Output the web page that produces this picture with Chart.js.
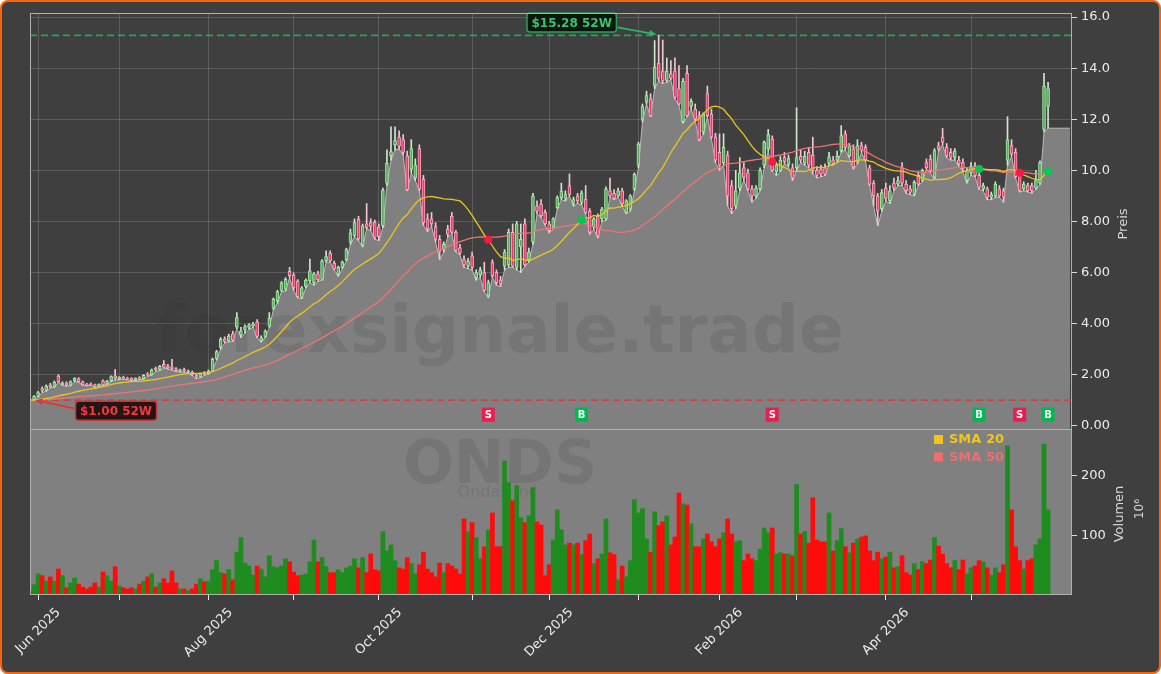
<!DOCTYPE html>
<html>
<head>
<meta charset="utf-8">
<title>ONDS</title>
<script src="https://cdn.jsdelivr.net/npm/chart.js@4.4.1/dist/chart.umd.min.js"></script>
<style>
  html, body { margin: 0; padding: 0; background: #ffffff; }
  #frame { position: absolute; left: 0; top: 0; width: 1161px; height: 674px; box-sizing: border-box;
           border: 2px solid #f3660e; border-radius: 8px; background: #3f3f3f; }
  #priceChart { position: absolute; left: 0; top: 0; }
  #volumeChart { position: absolute; left: 0; top: 429px; }
</style>
</head>
<body>
<div id="frame"></div>
<canvas id="priceChart" width="1161" height="440"></canvas>
<canvas id="volumeChart" width="1161" height="245"></canvas>
<script>
const FONT = '"DejaVu Sans", sans-serif';

// trading calendar (x axis is the trading-day index)
const startDate = '2025-05-29';
const holidays = ['2025-06-19', '2025-07-04', '2025-09-01', '2025-11-27', '2025-12-25',
                  '2026-01-01', '2026-01-19', '2026-02-16', '2026-04-03', '2026-05-25'];
const xTickLabels = ['Jun 2025', '', 'Aug 2025', '', 'Oct 2025', '', 'Dec 2025', '', 'Feb 2026', '', 'Apr 2026', ''];
const priceTicks = [0, 2, 4, 6, 8, 10, 12, 14, 16];
const volumeTicks = [100, 200];

// closes before the first visible day (only feed the moving averages)
const priorCloses = [0.95,0.97,0.96,0.98,0.99,0.97,0.96,0.98,1.00,0.99, 0.97,0.98,1.01,1.00,0.98,0.97,0.99,1.02,1.01,0.99,
  0.98,1.00,1.02,1.01,0.99,0.97,0.98,1.00,1.01,0.99, 0.98,0.97,0.99,1.00,0.98,0.96,0.97,0.99,1.01,1.00,
  0.98,0.97,0.99,1.00,1.02,1.01,0.99,1.01,1.03];

const opens = [
  1.04,1.02,
  1.15,1.45,1.38,1.60,1.52,1.94,1.62,1.68,1.59,1.76,1.83,1.72,1.63,1.64,1.60,1.55,1.76,1.64,1.76,1.95,
  1.84,1.90,1.86,1.85,1.80,1.88,1.84,2.02,2.00,2.25,2.20,2.40,2.34,2.30,2.24,2.13,2.20,2.10,2.10,1.98,1.90,2.08,
  2.04,2.14,2.62,3.06,3.40,3.32,3.60,3.86,3.55,3.75,3.85,3.92,4.07,3.32,3.50,3.90,4.60,4.90,5.30,5.35,6.04,
  5.90,5.66,5.02,5.45,5.67,5.60,5.95,5.73,6.45,6.75,6.37,5.92,6.20,6.50,7.20,7.45,8.09,7.07,7.90,7.95,7.96,
  7.79,7.83,9.50,10.57,10.99,11.30,11.20,10.57,10.04,9.70,10.85,9.65,8.10,8.10,7.80,7.30,6.90,7.70,8.20,7.57,6.96,6.50,6.25,
  6.65,5.80,5.90,6.00,5.08,6.39,6.00,5.70,6.25,6.30,7.57,6.20,7.00,7.90,6.50,7.20,8.60,8.68,8.35,
  7.90,7.77,8.54,8.93,8.90,9.40,8.70,9.00,8.74,8.87,8.40,7.77,8.20,8.10,8.10,9.20,9.10,9.00,9.20,8.35,8.48,9.27,
  10.20,12.00,12.67,12.80,13.32,14.20,13.90,13.52,13.78,13.90,13.20,11.90,13.80,12.50,12.40,12.14,11.50,13.00,12.20,11.30,
  10.70,10.30,10.60,9.40,8.60,9.30,10.10,9.90,9.27,9.00,9.27,10.20,10.84,11.22,9.95,10.00,10.50,10.23,10.10,
  10.10,10.55,10.30,10.70,10.60,10.00,10.05,10.10,10.27,10.40,10.40,10.77,11.43,10.57,10.84,10.32,10.97,10.90,10.10,9.50,9.00,8.50,
  9.30,8.80,9.50,9.46,10.10,9.46,9.27,9.07,9.80,9.60,10.30,10.44,9.73,10.97,11.30,10.90,10.70,10.50,10.40,10.30,9.60,
  9.90,10.18,9.80,9.27,9.27,8.95,9.00,9.27,9.20,10.40,10.97,10.70,9.80,9.27,9.40,9.40,9.30,9.50,11.60,12.50
];
const highs = [
  1.08,1.18,
  1.35,1.52,1.60,1.66,1.75,2.00,1.72,1.72,1.76,1.88,1.88,1.75,1.66,1.68,1.63,1.64,1.80,1.78,1.95,2.20,
  1.92,1.94,1.90,1.88,1.88,1.92,2.00,2.08,2.22,2.30,2.36,2.55,2.40,2.60,2.28,2.22,2.26,2.18,2.14,2.02,2.06,2.12,
  2.18,2.65,2.95,3.45,3.48,3.58,3.70,4.43,3.85,3.95,4.00,4.05,4.15,3.52,3.75,4.43,5.00,5.30,5.65,5.80,6.20,
  5.98,5.72,5.45,5.75,6.52,6.00,6.05,6.50,6.85,6.85,6.45,6.25,6.45,6.95,7.70,8.10,8.20,7.90,8.70,8.10,8.05,
  7.90,9.30,10.80,11.70,11.70,11.55,11.40,10.75,11.20,10.45,11.00,9.80,8.30,8.35,7.95,7.45,7.20,7.85,8.35,7.65,7.10,6.65,6.55,
  6.80,6.10,6.20,6.40,5.70,6.50,6.10,5.85,6.90,7.70,7.90,8.00,7.90,8.10,6.95,9.10,8.80,8.85,8.45,
  8.00,8.15,9.00,9.50,9.20,9.86,8.95,9.10,9.20,9.40,8.50,8.15,8.30,8.55,9.35,9.70,9.25,9.30,9.30,8.85,9.05,9.90,
  11.10,12.60,13.10,13.00,15.08,15.28,15.10,14.40,14.30,14.40,14.10,13.60,14.10,12.80,12.60,12.30,12.25,13.30,12.40,11.45,
  11.43,11.43,10.75,9.60,10.00,10.50,10.30,10.05,9.40,9.40,10.10,11.15,11.60,11.35,10.30,10.55,10.70,10.60,10.25,
  12.45,10.80,10.75,10.90,11.30,10.15,10.20,10.25,10.70,10.55,10.75,11.75,11.55,11.05,11.00,11.20,11.10,11.00,10.20,9.60,9.10,9.25,
  9.50,9.40,9.70,9.75,10.30,9.60,9.40,9.60,9.95,10.05,10.45,10.60,10.85,11.10,11.64,11.05,10.85,10.85,10.55,10.45,10.10,
  10.30,10.30,9.90,9.50,9.35,9.15,9.55,9.40,9.30,12.10,11.20,10.85,9.95,9.55,9.50,9.50,10.00,10.37,13.80,13.45
];
const lows = [
  1.01,1.00,
  1.12,1.30,1.35,1.48,1.50,1.70,1.58,1.55,1.56,1.72,1.70,1.58,1.56,1.58,1.50,1.53,1.58,1.62,1.72,1.80,
  1.80,1.82,1.80,1.76,1.78,1.80,1.82,1.94,1.98,2.12,2.16,2.26,2.22,2.18,2.12,2.10,2.10,2.06,1.96,1.84,1.88,1.98,
  2.02,2.12,2.58,3.00,3.24,3.28,3.30,3.80,3.45,3.62,3.78,3.85,3.45,3.28,3.45,3.85,4.55,4.80,5.25,5.28,5.80,
  5.30,5.00,4.98,5.40,5.60,5.50,5.65,5.70,6.40,6.40,6.10,5.85,6.15,6.45,7.10,7.40,7.25,7.00,7.70,7.65,7.30,
  7.25,7.75,9.40,10.40,10.80,10.84,10.60,9.20,9.90,9.60,9.20,7.85,7.60,7.80,7.20,6.50,6.80,7.40,7.50,6.80,6.70,6.20,6.15,
  6.10,5.70,5.80,5.25,5.02,5.80,5.50,5.45,6.10,6.20,6.20,6.10,6.00,6.25,6.40,7.10,8.30,8.15,7.85,
  7.55,7.70,8.50,8.85,8.80,9.00,8.60,8.70,8.65,8.30,7.50,7.70,7.35,8.00,8.05,8.95,8.85,8.95,8.60,8.30,8.40,9.20,
  10.10,11.90,12.60,12.10,13.20,13.50,13.40,13.45,13.55,12.80,12.55,11.85,12.10,12.40,11.95,11.15,11.40,12.10,11.25,10.30,
  10.00,10.20,8.60,8.30,8.50,9.20,9.60,9.20,8.75,8.90,9.20,10.10,10.75,9.95,9.80,9.95,10.25,10.15,9.60,
  10.00,10.30,10.20,10.10,9.85,9.70,9.75,9.80,10.20,10.20,10.30,10.70,10.80,10.50,10.05,10.25,10.70,10.35,9.40,8.60,7.83,8.40,
  8.80,8.70,9.20,9.40,9.40,9.10,9.05,9.00,9.40,9.55,10.05,9.90,9.65,10.75,11.00,10.50,10.40,10.40,10.15,9.95,9.50,
  9.80,9.75,9.25,9.20,8.85,8.85,8.95,8.95,8.75,10.20,10.55,9.70,9.15,9.20,9.15,9.10,9.25,9.45,11.50,11.65
];
const closes = [
  1.02,1.15,
  1.30,1.38,1.55,1.52,1.70,1.72,1.68,1.60,1.73,1.85,1.72,1.60,1.60,1.61,1.54,1.62,1.60,1.75,1.92,1.86,
  1.89,1.85,1.83,1.79,1.86,1.82,1.97,1.98,2.18,2.18,2.32,2.28,2.26,2.22,2.15,2.19,2.14,2.14,1.99,1.90,2.03,2.02,
  2.14,2.60,2.90,3.38,3.30,3.51,3.35,4.23,3.70,3.88,3.95,3.98,3.50,3.45,3.70,4.20,4.95,5.25,5.58,5.73,5.87,
  5.40,5.05,5.40,5.70,6.06,5.95,5.72,6.46,6.62,6.45,6.13,6.20,6.40,6.90,7.55,7.95,7.31,7.83,7.75,7.80,7.37,
  7.40,9.23,10.27,10.73,11.16,10.95,10.70,9.24,10.85,10.20,9.27,7.95,7.70,7.90,7.30,6.80,7.10,7.50,7.57,6.85,6.76,6.30,6.45,
  6.20,6.00,6.10,5.30,5.60,5.87,5.60,5.55,6.80,7.57,6.25,7.90,7.30,6.30,6.80,9.00,8.40,8.22,7.90,
  7.64,8.10,8.93,9.19,9.05,9.06,8.85,8.80,9.12,8.35,7.57,8.10,7.43,8.48,9.27,9.00,8.90,9.20,8.68,8.80,9.00,9.84,
  11.03,12.50,12.93,12.14,14.04,13.60,13.50,13.90,13.60,12.86,12.60,13.48,12.14,12.70,12.00,11.20,12.20,12.14,11.30,10.40,
  10.20,10.90,9.00,8.50,9.20,9.90,9.72,9.27,9.00,9.30,10.00,11.10,11.40,10.00,10.20,10.40,10.35,10.46,9.70,
  10.50,10.40,10.55,10.20,10.00,9.80,9.85,9.85,10.53,10.27,10.55,11.36,10.90,10.97,10.12,10.97,10.80,10.40,9.46,9.00,8.40,9.13,
  8.90,9.20,9.30,9.60,9.50,9.20,9.13,9.53,9.46,10.00,10.10,9.98,10.77,10.84,11.10,10.57,10.50,10.75,10.25,10.05,10.00,
  10.15,9.80,9.33,9.40,8.94,9.05,9.46,9.00,8.95,11.20,10.64,9.75,9.20,9.46,9.20,9.20,9.60,10.30,13.30,13.20
];
// volume in millions
const volumes = [
  9,19,
  37,34,25,32,25,45,34,14,22,30,20,15,12,15,22,15,40,34,25,49,
  17,14,12,14,12,20,25,32,37,15,22,29,22,42,22,12,12,9,12,20,29,24,
  25,44,59,39,37,44,27,73,97,55,50,35,50,45,32,67,49,47,50,62,57,
  40,34,35,37,57,93,57,64,49,39,39,44,39,47,50,62,47,64,39,70,44,
  42,107,75,85,59,47,45,64,54,37,52,73,45,39,32,55,39,54,50,45,37,128,107,
  122,97,62,82,110,138,82,82,224,188,158,183,130,122,133,180,123,118,34,
  52,93,143,110,85,88,85,88,69,92,103,54,62,70,128,72,69,27,50,32,59,160,
  138,145,95,73,140,117,123,133,85,98,171,153,151,120,82,82,95,103,90,82,
  95,105,128,103,90,92,59,70,62,59,78,113,105,113,70,72,70,70,67,
  185,103,107,88,163,93,90,90,138,75,92,112,82,72,88,95,98,100,75,59,73,62,
  65,73,47,49,67,39,35,54,44,57,54,60,97,83,70,54,47,59,44,60,37,
  47,50,59,57,47,35,47,39,52,249,143,82,59,45,59,62,85,95,252,143
];
// SMA crossover signals
const signalIdx = [113, 136, 183, 234, 244, 251];
const signalType = ['S', 'B', 'S', 'B', 'S', 'B'];

const X_MIN = 0, X_MAX = 256.9;   // visible index range
const AREA_END = 256.4;            // low-price band runs on to here
const SIGNAL_LEVEL = 0.43;         // price level of the S/B tags

function tradingDays(start, n) {
  const out = [];
  const d = new Date(start + 'T00:00:00Z');
  while (out.length < n) {
    const wd = d.getUTCDay();
    const iso = d.toISOString().slice(0, 10);
    if (wd !== 0 && wd !== 6 && !holidays.includes(iso)) out.push(iso);
    d.setUTCDate(d.getUTCDate() + 1);
  }
  return out;
}

function sma(period) {
  const all = priorCloses.concat(closes);
  const off = priorCloses.length;
  return closes.map((_, i) => {
    const end = off + i, start = Math.max(0, end - period + 1);
    let s = 0;
    for (let k = start; k <= end; k++) s += all[k];
    return s / (end - start + 1);
  });
}

const N = closes.length;
const dates = tradingDays(startDate, N);
const monthStarts = [];
for (let i = 1; i < N; i++) {
  if (dates[i].slice(0, 7) !== dates[i - 1].slice(0, 7)) monthStarts.push(i);
}
const up = closes.map((c, i) => c >= opens[i]);
const sma20 = sma(20);
const sma50 = sma(50);
const high52 = Math.max(...highs), highIdx = highs.indexOf(high52);
const low52 = Math.min(...lows), lowIdx = lows.indexOf(low52);

const areaData = lows.map((v, i) => ({ x: i, y: v }));
areaData.push({ x: AREA_END, y: lows[N - 1] });

function roundBox(ctx, x, y, w, h, r) {
  ctx.beginPath();
  ctx.moveTo(x + r, y);
  ctx.arcTo(x + w, y, x + w, y + h, r);
  ctx.arcTo(x + w, y + h, x, y + h, r);
  ctx.arcTo(x, y + h, x, y, r);
  ctx.arcTo(x, y, x + w, y, r);
  ctx.closePath();
}

function arrow(ctx, x1, y1, x2, y2, color) {
  const ang = Math.atan2(y2 - y1, x2 - x1), hl = 8;
  ctx.strokeStyle = color; ctx.fillStyle = color;
  ctx.lineWidth = 1.8; ctx.setLineDash([]);
  ctx.beginPath();
  ctx.moveTo(x1, y1);
  ctx.lineTo(x2 - hl * 0.8 * Math.cos(ang), y2 - hl * 0.8 * Math.sin(ang));
  ctx.stroke();
  ctx.beginPath();
  ctx.moveTo(x2, y2);
  ctx.lineTo(x2 - hl * Math.cos(ang - 0.4), y2 - hl * Math.sin(ang - 0.4));
  ctx.lineTo(x2 - hl * Math.cos(ang + 0.4), y2 - hl * Math.sin(ang + 0.4));
  ctx.closePath();
  ctx.fill();
}

// returns the box so the arrow can start at its edge
function tag(ctx, text, cx, cy, bg, border, color) {
  ctx.font = 'bold 12px ' + FONT;
  const w = ctx.measureText(text).width + 9, h = 19;
  roundBox(ctx, cx - w / 2, cy - h / 2, w, h, 3);
  ctx.fillStyle = bg; ctx.fill();
  ctx.lineWidth = 1.5; ctx.setLineDash([]); ctx.strokeStyle = border; ctx.stroke();
  ctx.fillStyle = color; ctx.textAlign = 'center'; ctx.textBaseline = 'middle';
  ctx.fillText(text, cx, cy + 1);
  return { w, h };
}

const priceDeco = {
  id: 'priceDeco',
  afterDatasetDraw(chart, args) {
    if (args.index !== 0) return;   // right after the grey low band
    const { ctx, chartArea: a, scales: { y } } = chart;
    ctx.save();
    ctx.beginPath(); ctx.rect(a.left, a.top, a.right - a.left, a.bottom - a.top); ctx.clip();
    ctx.font = 'bold 66px ' + FONT;
    ctx.fillStyle = 'rgba(45,45,45,0.13)';
    ctx.textAlign = 'center'; ctx.textBaseline = 'alphabetic';
    ctx.fillText('forexsignale.trade', 500, 352);
    ctx.setLineDash([7, 4]);
    ctx.lineWidth = 1.7;
    [[high52, '#2f9f5c'], [low52, '#c94444']].forEach(([v, c]) => {
      const py = y.getPixelForValue(v);
      ctx.strokeStyle = c;
      ctx.beginPath(); ctx.moveTo(a.left, py); ctx.lineTo(a.right, py); ctx.stroke();
    });
    ctx.restore();
  },
  afterDatasetsDraw(chart) {
    const { ctx, chartArea: a, scales: { x, y } } = chart;
    ctx.save();
    // S / B tags
    const sy = y.getPixelForValue(SIGNAL_LEVEL);
    ctx.font = 'bold 10px ' + FONT;
    ctx.textAlign = 'center'; ctx.textBaseline = 'middle';
    signalIdx.forEach((i, k) => {
      const sx = x.getPixelForValue(i);
      ctx.fillStyle = signalType[k] === 'B' ? '#00b852' : '#e91e4f';
      ctx.fillRect(sx - 6.5, sy - 7, 13, 14);
      ctx.fillStyle = '#ffffff';
      ctx.fillText(signalType[k], sx, sy + 0.5);
    });
    // 52 week high / low tags
    const hx = x.getPixelForValue(highIdx), hy = y.getPixelForValue(high52);
    const hcx = hx - 87, hcy = hy - 13;
    const hb = tag(ctx, '$' + high52.toFixed(2) + ' 52W', hcx, hcy, 'rgba(6,18,10,0.9)', '#2f9f5c', '#39c46e');
    arrow(ctx, hcx + hb.w / 2 + 1, hcy + 5, hx - 2, hy - 1, '#2fb463');
    const lx = x.getPixelForValue(lowIdx), ly = y.getPixelForValue(low52);
    const lcx = lx + 82, lcy = ly + 10.5;
    const lb = tag(ctx, '$' + low52.toFixed(2) + ' 52W', lcx, lcy, 'rgba(26,8,8,0.9)', '#c43a3a', '#f03a3a');
    arrow(ctx, lcx - lb.w / 2 - 1, lcy - 2, lx + 1, ly, '#e03535');
    // panel frame
    ctx.strokeStyle = '#b0b0b0'; ctx.lineWidth = 1; ctx.setLineDash([]);
    ctx.strokeRect(a.left + 0.5, a.top + 0.5, a.right - a.left - 1, a.bottom - a.top);
    // axis title
    ctx.translate(1124, (a.top + a.bottom) / 2 + 3);
    ctx.rotate(-Math.PI / 2);
    ctx.font = '13px ' + FONT; ctx.fillStyle = '#d9d9d9';
    ctx.fillText('Preis', 0, 0);
    ctx.restore();
  }
};

const volumeDeco = {
  id: 'volumeDeco',
  beforeDraw(chart) {
    const { ctx, chartArea: a } = chart;
    ctx.save();
    ctx.fillStyle = '#808080';
    ctx.fillRect(a.left, a.top, a.right - a.left, a.bottom - a.top);
    ctx.fillStyle = 'rgba(45,45,45,0.12)';
    ctx.textAlign = 'center'; ctx.textBaseline = 'alphabetic';
    ctx.font = 'bold 60px ' + FONT;
    ctx.fillText('ONDS', 500, a.top + 54);
    ctx.font = '16px ' + FONT;
    ctx.fillText('Ondas Inc.', 500, a.top + 68);
    ctx.restore();
  },
  afterDraw(chart) {
    const { ctx, chartArea: a, scales: { x } } = chart;
    ctx.save();
    ctx.strokeStyle = '#b0b0b0'; ctx.lineWidth = 1;
    ctx.strokeRect(a.left + 0.5, a.top + 0.5, a.right - a.left - 1, a.bottom - a.top - 1);
    // legend
    const lx = a.right - 138;
    [['SMA 20', '#f2c618'], ['SMA 50', '#ef6e6e']].forEach(([t, c], k) => {
      const yy = a.top + 6 + k * 17.5;
      ctx.fillStyle = c;
      ctx.fillRect(lx, yy, 9, 9);
      ctx.font = 'bold 13px ' + FONT;
      ctx.textAlign = 'left'; ctx.textBaseline = 'middle';
      ctx.fillText(t, lx + 15, yy + 5);
    });
    // month labels, rotated and centred on their tick
    ctx.font = '13px ' + FONT; ctx.fillStyle = '#ececec';
    monthStarts.forEach((v, k) => {
      const label = xTickLabels[k];
      if (!label) return;
      const px = x.getPixelForValue(v);
      const d = (ctx.measureText(label).width + 10) * Math.SQRT1_2;
      ctx.save();
      ctx.translate(px, a.bottom + 12 + d / 2);
      ctx.rotate(-Math.PI / 4);
      ctx.textAlign = 'center'; ctx.textBaseline = 'middle';
      ctx.fillText(label, 0, 0);
      ctx.restore();
    });
    // axis title with unit
    const my = (a.top + a.bottom) / 2;
    ctx.fillStyle = '#d9d9d9';
    ctx.textAlign = 'center'; ctx.textBaseline = 'middle';
    ctx.save();
    ctx.translate(1120, my + 2); ctx.rotate(-Math.PI / 2);
    ctx.font = '13px ' + FONT; ctx.fillText('Volumen', 0, 0);
    ctx.restore();
    ctx.save();
    ctx.translate(1140, my - 3); ctx.rotate(-Math.PI / 2);
    ctx.font = '12px ' + FONT; ctx.fillText('10\u2076', 0, 0);
    ctx.restore();
    ctx.restore();
  }
};

const monthGrid = s => { s.ticks = monthStarts.map(v => ({ value: v })); };
// fixed axis width, and no extra room reserved for the end labels
const rightAxisFit = s => { s.width = 89; s.paddingTop = 0; s.paddingBottom = 0; };

new Chart(document.getElementById('priceChart'), {
  type: 'bar',
  data: {
    datasets: [
      { type: 'line', label: 'Low', data: areaData, fill: 'start', backgroundColor: '#808080',
        borderColor: 'rgba(215,215,215,0.75)', borderWidth: 1, pointRadius: 0, order: 6 },
      { type: 'bar', label: 'Wick', data: highs.map((h, i) => ({ x: i, y: [lows[i], h] })),
        backgroundColor: up.map(u => u ? '#cfe6cf' : '#f2c6d1'), barThickness: 1, grouped: false, order: 5 },
      { type: 'bar', label: 'Body', data: opens.map((o, i) => ({ x: i, y: [o, closes[i]] })),
        backgroundColor: up.map(u => u ? 'rgba(70,150,80,0.75)' : '#ee3a6a'),
        borderColor: up.map(u => u ? '#a2eaa2' : '#f8aac0'), borderWidth: 1, borderSkipped: false,
        barThickness: 3, grouped: false, order: 4 },
      { type: 'line', label: 'SMA 50', data: sma50.map((v, i) => ({ x: i, y: v })),
        borderColor: '#ef7373', borderWidth: 1.3, pointRadius: 0, order: 3 },
      { type: 'line', label: 'SMA 20', data: sma20.map((v, i) => ({ x: i, y: v })),
        borderColor: '#ecc51c', borderWidth: 1.3, pointRadius: 0, order: 2 },
      { type: 'line', label: 'Signal', data: signalIdx.map(i => ({ x: i, y: sma20[i] })), showLine: false,
        pointRadius: 4, pointBorderWidth: 0,
        pointBackgroundColor: signalType.map(t => t === 'B' ? '#00c853' : '#ff1744'), order: 1 }
    ]
  },
  options: {
    responsive: false,
    animation: false,
    devicePixelRatio: 1,
    layout: { padding: { left: 30, top: 13, right: 0, bottom: 11 } },
    plugins: { legend: { display: false }, tooltip: { enabled: false } },
    scales: {
      x: {
        type: 'linear', min: X_MIN, max: X_MAX, offset: false,
        afterBuildTicks: monthGrid,
        afterFit: s => { s.height = 0; },
        ticks: { display: false },
        grid: { color: 'rgba(255,255,255,0.15)', drawTicks: false, offset: false },
        border: { display: false }
      },
      y: {
        type: 'linear', position: 'right', min: -0.13, max: 16.16,
        afterBuildTicks: s => { s.ticks = priceTicks.map(v => ({ value: v })); },
        afterFit: rightAxisFit,
        ticks: { color: '#ececec', font: { family: FONT, size: 13 }, padding: 4,
                 callback: v => v >= 10 ? v.toFixed(1) : v.toFixed(2) },
        grid: { color: 'rgba(255,255,255,0.15)', tickColor: '#dcdcdc', tickLength: 5 },
        border: { display: false }
      }
    }
  },
  plugins: [priceDeco]
});

new Chart(document.getElementById('volumeChart'), {
  type: 'bar',
  data: {
    datasets: [{
      label: 'Volumen', data: volumes.map((v, i) => ({ x: i, y: v })),
      backgroundColor: up.map(u => u ? '#1f8c1f' : '#ff0b0b'),
      borderWidth: 0, barPercentage: 1, categoryPercentage: 1
    }]
  },
  options: {
    responsive: false,
    animation: false,
    devicePixelRatio: 1,
    layout: { padding: { left: 30, top: 0, right: 0, bottom: 0 } },
    plugins: { legend: { display: false }, tooltip: { enabled: false } },
    scales: {
      x: {
        type: 'linear', min: X_MIN, max: X_MAX, offset: false,
        afterBuildTicks: monthGrid,
        afterFit: s => { s.height = 79; s.paddingLeft = 0; s.paddingRight = 0; },
        ticks: { display: false },
        grid: { drawOnChartArea: false, tickLength: 5, tickColor: '#e6e6e6', offset: false },
        border: { display: false }
      },
      y: {
        type: 'linear', position: 'right', min: 2, max: 277,
        afterBuildTicks: s => { s.ticks = volumeTicks.map(v => ({ value: v })); },
        afterFit: rightAxisFit,
        ticks: { color: '#ececec', font: { family: FONT, size: 13 }, padding: 4 },
        grid: { drawOnChartArea: false, tickColor: '#dcdcdc', tickLength: 5 },
        border: { display: false }
      }
    }
  },
  plugins: [volumeDeco]
});
</script>
</body>
</html>
